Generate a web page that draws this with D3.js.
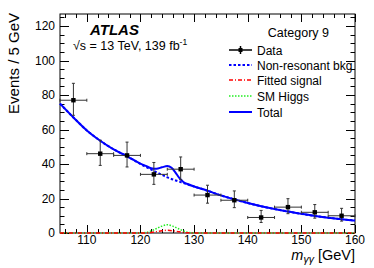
<!DOCTYPE html>
<html><head><meta charset="utf-8">
<script src="https://cdn.jsdelivr.net/npm/d3@7"></script>
<style>body{margin:0;background:#fff}svg{display:block;font-family:"Liberation Sans",Arial,sans-serif}</style>
</head><body><svg id="c" width="374" height="268"></svg>
<script>
// Data
const binCenters = [107.5,112.5,117.5,122.5,127.5,132.5,137.5,142.5,147.5,152.5,157.5];
const counts     = [77,46,45,34,37,22,19,9,15,12,10];
const errUp      = [9.8,7.8,7.7,6.9,7.1,5.7,5.4,4.1,4.9,4.5,4.3];
const errDown    = [8.75,6.8,6.7,5.8,6.1,4.7,4.3,2.9,3.8,3.4,3.1];
const bkgX = [105,107.5,110,112.5,115,117.5,120,122.5,125,127.5,130,132.5,135,137.5,140,142.5,145,147.5,150,152.5,155,157.5,160];
const bkgY = [75,67,59.5,53.5,48.5,44.5,40,36,32.3,29.5,27,24.5,21.8,19.5,17.4,15.5,13.9,12.5,11.1,9.9,8.9,8,7.2];
const totalX = [105,107.5,110,112.5,115,117.5,120,121,122,123,124,125,125.8,126.5,127.2,128,129,130,132.5,135,137.5,140,142.5,145,147.5,150,152.5,155,157.5,160];
const totalY = [75,67,59.5,53.5,48.5,44.5,40.2,38.9,37.6,37.3,38.1,38.8,37.8,35.2,32.1,29.6,28.1,27,24.5,21.8,19.5,17.4,15.5,13.9,12.5,11.1,9.9,8.9,8,7.2];
const sigX = [105,119,120,121,122,123,124,125,126,127,128,129,130,131,160];
const fittedSignal = [0,0,0.02,0.08,0.35,0.8,1.3,1.6,1.3,0.8,0.35,0.08,0.02,0,0];
const smHiggs      = [0,0,0.05,0.3,1.2,2.6,4.0,4.8,4.0,2.6,1.2,0.3,0.05,0,0];
const xTicks = [110,120,130,140,150,160];
const yTicks = [0,20,40,60,80,100,120];
const legendLabels = ["Data","Non-resonant bkg","Fitted signal","SM Higgs","Total"];

const svg = d3.select("#c");
const L=60,R=355,T=14,B=233;
const x = d3.scaleLinear().domain([105,160]).range([L,R]);
const y = d3.scaleLinear().domain([0,127]).range([B,T]);

// frame
svg.append("rect").attr("x",L).attr("y",T).attr("width",R-L).attr("height",B-T)
  .attr("fill","none").attr("stroke","#000").attr("stroke-width",1);

// ticks
const g = svg.append("g").attr("stroke","#000").attr("stroke-width",1);
d3.range(106,160.01,2).forEach(v=>{
  const major = Math.abs(v%10)<1e-6;
  const len = major?8:4;
  const px = Math.round(x(v))+0.5;
  g.append("line").attr("x1",px).attr("x2",px).attr("y1",B).attr("y2",B-len);
  g.append("line").attr("x1",px).attr("x2",px).attr("y1",T).attr("y2",T+len);
});
d3.range(0,126,5).forEach(v=>{
  const major = v%20===0;
  const len = major?9:4.5;
  const py = Math.round(y(v))+0.5;
  g.append("line").attr("x1",L).attr("x2",L+len).attr("y1",py).attr("y2",py);
  g.append("line").attr("x1",R).attr("x2",R-len).attr("y1",py).attr("y2",py);
});
// tick labels
svg.append("g").selectAll("text").data(xTicks).join("text")
  .attr("x",d=>x(d)).attr("y",244).attr("text-anchor","middle")
  .attr("font-size",12).text(d=>d);
svg.append("g").selectAll("text").data(yTicks).join("text")
  .attr("x",55).attr("y",d=>y(d)+4.3).attr("text-anchor","end")
  .attr("font-size",12).text(d=>d);

// axis titles
svg.append("text").attr("transform","translate(19,13) rotate(-90)")
  .attr("text-anchor","end").attr("font-size",15).text("Events / 5 GeV");
const xt = svg.append("text").attr("x",355).attr("y",260).attr("text-anchor","end").attr("font-size",14.5);
xt.append("tspan").attr("font-style","italic").text("m");
xt.append("tspan").attr("font-style","italic").attr("font-size",10.5).attr("dy",3).text("γγ");
xt.append("tspan").attr("dy",-3).text(" [GeV]");

// curves
const line = d3.line().x(d=>x(d[0])).y(d=>y(d[1])).curve(d3.curveMonotoneX);
svg.append("path").datum(sigX.map((v,i)=>[v,smHiggs[i]])).attr("d",line)
  .attr("fill","none").attr("stroke","#22ee22").attr("stroke-width",1.5).attr("stroke-dasharray","1.5,1.5");
svg.append("path").datum(sigX.map((v,i)=>[v,fittedSignal[i]])).attr("d",line)
  .attr("fill","none").attr("stroke","#ff0000").attr("stroke-width",1.5).attr("stroke-dasharray","4,2,1,2");
svg.append("path").datum(bkgX.map((v,i)=>[v,bkgY[i]])).attr("d",line)
  .attr("fill","none").attr("stroke","#0000ff").attr("stroke-width",2).attr("stroke-dasharray","2.5,2");
svg.append("path").datum(totalX.map((v,i)=>[v,totalY[i]])).attr("d",line)
  .attr("fill","none").attr("stroke","#0000ff").attr("stroke-width",2);

// data points
const dg = svg.append("g").attr("stroke","#333").attr("stroke-width",1);
binCenters.forEach((c,i)=>{
  const px=x(c), py=y(counts[i]);
  dg.append("line").attr("x1",x(c-2.5)).attr("x2",x(c+2.5)).attr("y1",py).attr("y2",py);
  dg.append("line").attr("x1",px).attr("x2",px).attr("y1",y(counts[i]+errUp[i])).attr("y2",y(counts[i]-errDown[i]));
  [x(c-2.5),x(c+2.5)].forEach(ex=>dg.append("line").attr("x1",ex).attr("x2",ex).attr("y1",py-1.5).attr("y2",py+1.5));
  [y(counts[i]+errUp[i]),y(counts[i]-errDown[i])].forEach(ey=>dg.append("line").attr("x1",px-1.5).attr("x2",px+1.5).attr("y1",ey).attr("y2",ey));
  svg.append("rect").attr("x",px-2.2).attr("y",py-2.2).attr("width",4.4).attr("height",4.4).attr("fill","#000");
});

// texts
svg.append("text").attr("x",90).attr("y",35).attr("font-size",15).attr("font-weight","bold")
  .attr("font-style","italic").text("ATLAS");
const en = svg.append("text").attr("x",73).attr("y",50).attr("font-size",12.5);
en.append("tspan").text("√s = 13 TeV, 139 fb");
en.append("tspan").attr("font-size",8.5).attr("dy",-5).text("-1");
svg.append("text").attr("x",329).attr("y",37).attr("text-anchor","end").attr("font-size",12.5).text("Category 9");

// legend
const ly = [50,65,80,96,112];
const lx1=229, lx2=252;
legendLabels.forEach((t,i)=>{
  svg.append("text").attr("x",257).attr("y",ly[i]+4.5).attr("font-size",12).text(t);
});
svg.append("line").attr("x1",lx1).attr("x2",lx2).attr("y1",ly[0]).attr("y2",ly[0]).attr("stroke","#000").attr("stroke-width",1.5);
svg.append("line").attr("x1",(lx1+lx2)/2).attr("x2",(lx1+lx2)/2).attr("y1",ly[0]-4).attr("y2",ly[0]+4).attr("stroke","#000").attr("stroke-width",1.5);
svg.append("rect").attr("x",(lx1+lx2)/2-2).attr("y",ly[0]-2).attr("width",4).attr("height",4).attr("fill","#000");
svg.append("line").attr("x1",lx1).attr("x2",lx2).attr("y1",ly[1]).attr("y2",ly[1]).attr("stroke","#0000ff").attr("stroke-width",2).attr("stroke-dasharray","2.5,2");
svg.append("line").attr("x1",lx1).attr("x2",lx2).attr("y1",ly[2]).attr("y2",ly[2]).attr("stroke","#ff0000").attr("stroke-width",1.5).attr("stroke-dasharray","4,2,1,2");
svg.append("line").attr("x1",lx1).attr("x2",lx2).attr("y1",ly[3]).attr("y2",ly[3]).attr("stroke","#22ee22").attr("stroke-width",1.5).attr("stroke-dasharray","1.5,1.5");
svg.append("line").attr("x1",lx1).attr("x2",lx2).attr("y1",ly[4]).attr("y2",ly[4]).attr("stroke","#0000ff").attr("stroke-width",2);
</script></body></html>
